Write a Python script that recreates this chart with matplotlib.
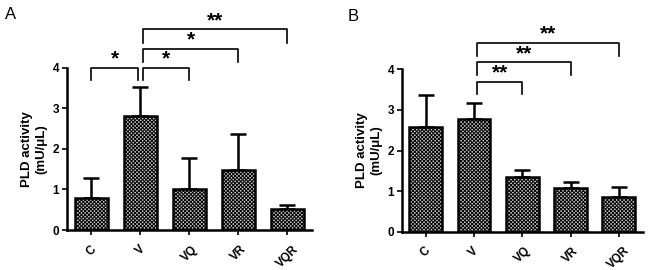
import matplotlib
matplotlib.use("Agg")
import matplotlib.pyplot as plt

categories = ["C", "V", "VQ", "VR", "VQR"]
means_a = [0.80, 2.80, 1.00, 1.47, 0.53]
errs_a = [0.48, 0.72, 0.77, 0.90, 0.09]
means_b = [2.58, 2.77, 1.35, 1.07, 0.86]
errs_b = [0.80, 0.41, 0.16, 0.16, 0.23]
yticks = [0, 1, 2, 3, 4]

# brackets: (i, j, height, drop, label)
brackets_a = [(0, 1, 4.0, 0.30, "*"), (1, 2, 4.0, 0.30, "*"),
              (1, 3, 4.47, 0.32, "*"), (1, 4, 4.95, 0.33, "**")]
brackets_b = [(1, 2, 3.69, 0.30, "**"), (1, 3, 4.17, 0.30, "**"),
              (1, 4, 4.65, 0.33, "**")]

plt.rcParams['hatch.linewidth'] = 0.7
plt.rcParams['font.family'] = ['Liberation Sans', 'DejaVu Sans']

fig = plt.figure(figsize=(6.5, 2.7), dpi=100)
axA = fig.add_axes([0.103, 0.148, 0.377, 0.601])
axB = fig.add_axes([0.618, 0.142, 0.371, 0.601])


def draw(ax, means, errs, brackets, letter, lx, ly):
    x = list(range(len(categories)))
    ax.bar(x, means, width=0.68, color='#c8c8c8', edgecolor='black',
           hatch='xxxxxxxxx', linewidth=1.8, zorder=2)
    ax.errorbar(x, means, yerr=[[0]*len(errs), errs], fmt='none',
                ecolor='black', elinewidth=1.8, capsize=6, capthick=1.8,
                zorder=1)
    ax.set_xlim(-0.5, 4.5)
    ax.set_ylim(0, 4)
    ax.set_yticks(yticks)
    ax.set_yticklabels([str(t) for t in yticks], fontweight='bold', fontsize=8.5)
    ax.set_xticks(x)
    ax.set_xticklabels(categories, rotation=45, fontweight='bold', fontsize=8.5,
                       ha='center', va='top', rotation_mode='default')
    ax.tick_params(axis='both', width=1.2, length=3.5, pad=2)
    ax.tick_params(axis='x', pad=6)
    for s in ['top', 'right']:
        ax.spines[s].set_visible(False)
    for s in ['left', 'bottom']:
        ax.spines[s].set_linewidth(1.8)
    ax.set_ylabel("PLD activity\n(mU/\u03bcL)", fontweight='bold', fontsize=9.5,
                  labelpad=4, linespacing=1.2)
    for (i, j, h, d, lab) in brackets:
        if i == 0:
            xs, xe = i, j - 0.06
        else:
            xs, xe = i + 0.06, j
        ax.plot([xs, xs, xe, xe], [h - d, h, h, h - d], color='black',
                lw=1.2, clip_on=False)
        ax.text((xs + xe) / 2, h - 0.02, lab, ha='center', va='bottom',
                fontsize=15, fontweight='bold')
    fig.text(lx, ly, letter, fontsize=12, ha='left', va='center')


draw(axA, means_a, errs_a, brackets_a, "A", 0.007, 0.945)
draw(axB, means_b, errs_b, brackets_b, "B", 0.535, 0.94)

fig.savefig("out.png", dpi=100)
